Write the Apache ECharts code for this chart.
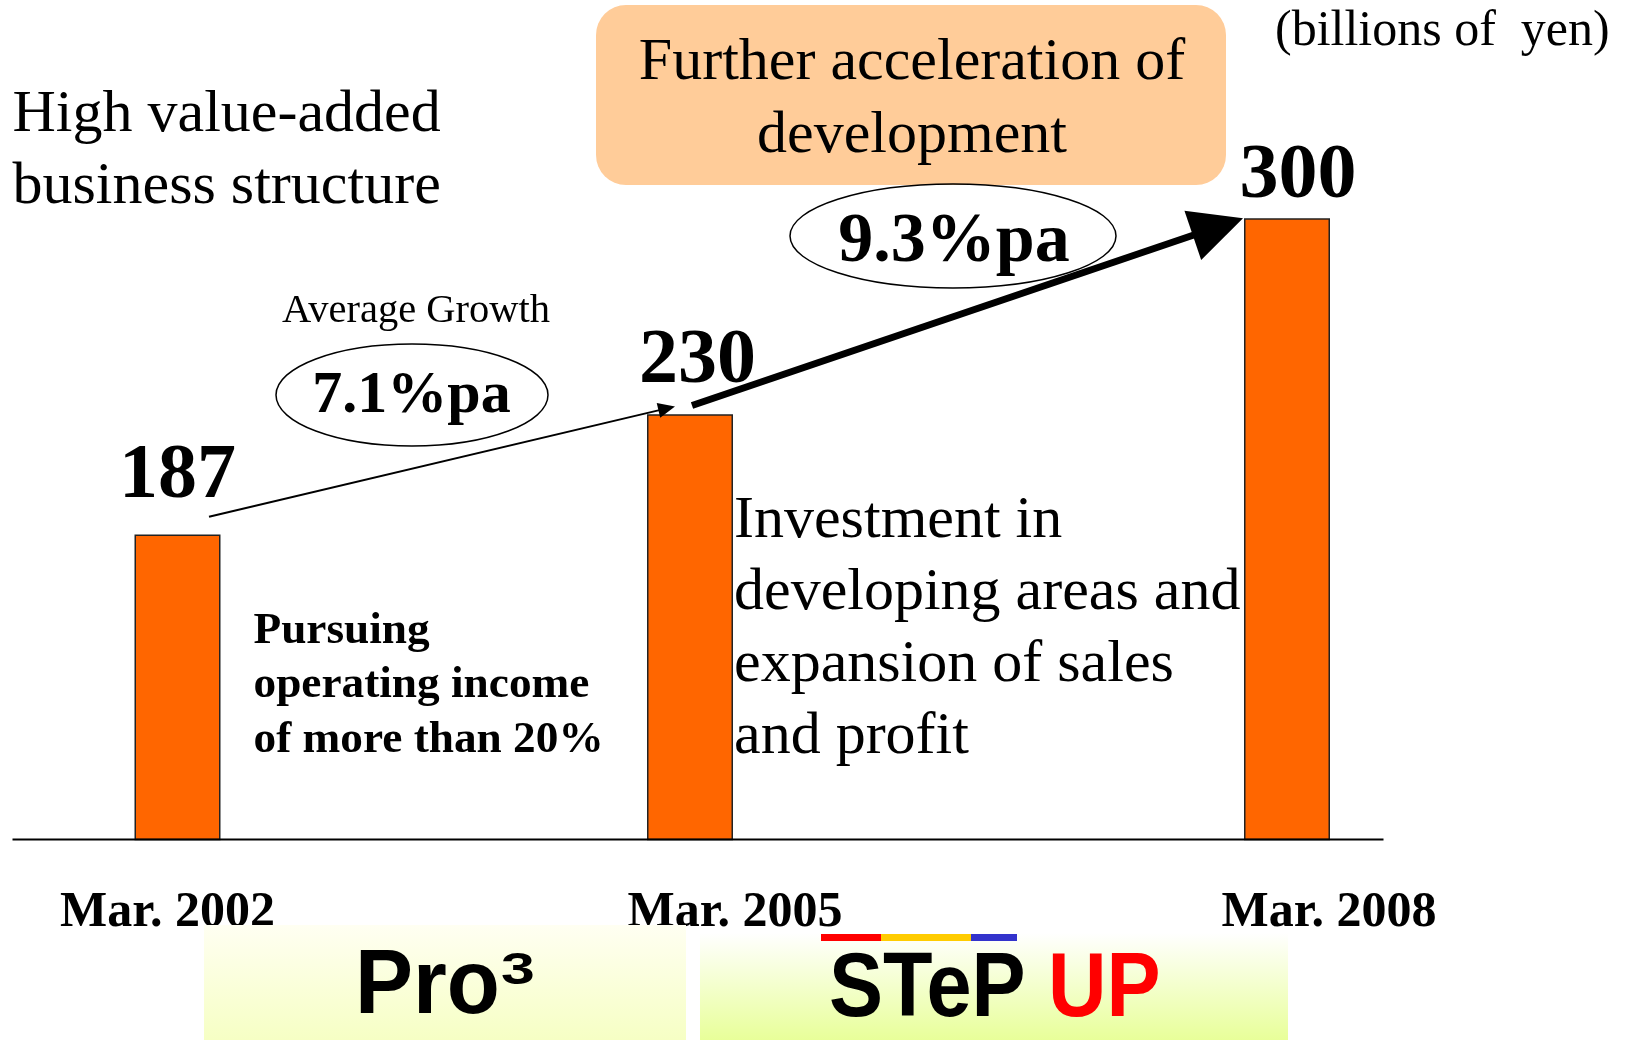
<!DOCTYPE html>
<html>
<head>
<meta charset="utf-8">
<script src="https://cdn.jsdelivr.net/npm/echarts@6/dist/echarts.min.js"></script>
<style>
html, body { margin: 0; padding: 0; background: #fff; }
#chart { width: 1625px; height: 1040px; }
</style>
</head>
<body>
<div id="chart"></div>
<script>
// data
var periods = ['Mar. 2002', 'Mar. 2005', 'Mar. 2008'];
var sales = [187, 230, 300];            // billions of yen
var growthRates = ['7.1%pa', '9.3%pa']; // average growth per period

var serif = '"Liberation Serif", "Times New Roman", serif';
var sans = '"Liberation Sans", Arial, sans-serif';

// layout of the slide (bars are not evenly spaced, so one small grid per bar)
var barCenters = [177.5, 690, 1287];
var labelShift = [-10, 45, 42];
var valueLabelOffset = [[0, -4], [7.5, 2], [11, 13]];
var baseY = 839.5;

var myChart = echarts.init(document.getElementById('chart'));

var grids = [], xAxes = [], yAxes = [], seriesList = [];
periods.forEach(function (p, i) {
    grids.push({ left: barCenters[i] - 60, width: 120, top: 0, height: baseY, outerBoundsMode: 'none' });
    var s = labelShift[i];
    xAxes.push({
        type: 'category', gridIndex: i, data: [p],
        axisLine: { show: false }, axisTick: { show: false },
        axisLabel: {
            color: '#000', fontFamily: serif, fontWeight: 'bold', fontSize: 50, lineHeight: 50,
            margin: 49,
            padding: s > 0 ? [0, 0, 0, 2 * s] : [0, -2 * s, 0, 0]
        }
    });
    yAxes.push({ type: 'value', gridIndex: i, min: 78, max: 378, show: false });
    seriesList.push({
        type: 'bar', xAxisIndex: i, yAxisIndex: i, data: [sales[i]], barWidth: 86,
        itemStyle: { color: '#FF6600', borderColor: '#222', borderWidth: 1.5 },
        label: {
            show: true, position: 'top', distance: 15, offset: valueLabelOffset[i], color: '#000',
            fontFamily: serif, fontWeight: 'bold', fontSize: 78, lineHeight: 78
        }
    });
});

function text(x, y, str, font, extra) {
    var el = {
        type: 'text', x: x, y: y, z: 10,
        style: { text: str, font: font, fill: '#000', align: 'left', verticalAlign: 'top' }
    };
    if (extra) {
        for (var k in extra) {
            if (k === 'style') { for (var j in extra.style) el.style[j] = extra.style[j]; }
            else el[k] = extra[k];
        }
    }
    return el;
}

function grad(top, bottom) {
    return new echarts.graphic.LinearGradient(0, 0, 0, 1, [
        { offset: 0, color: top }, { offset: 1, color: bottom }
    ]);
}

var staticGraphics = [
    { type: 'rect', shape: { x: 596, y: 5, width: 630, height: 180, r: 30 }, style: { fill: '#FFCC99' }, z: 1 },
    text(912, 26.6, 'Further acceleration of\ndevelopment', '60px ' + serif, { style: { align: 'center', lineHeight: 73 } }),
    text(12.5, 79.3, 'High value-added\nbusiness structure', '60px ' + serif, { style: { lineHeight: 72 } }),
    text(1275, 7, '(billions of  yen)', '50px ' + serif),
    text(416, 291, 'Average Growth', '40.5px ' + serif, { style: { align: 'center' } }),
    { type: 'ellipse', shape: { cx: 412, cy: 395, rx: 136, ry: 51 }, style: { fill: 'none', stroke: '#000', lineWidth: 1.5 }, z: 5 },
    text(411.5, 366.6, growthRates[0], 'bold 60px ' + serif, { style: { align: 'center' } }),
    { type: 'ellipse', shape: { cx: 953, cy: 236, rx: 163, ry: 52 }, style: { fill: 'none', stroke: '#000', lineWidth: 1.5 }, z: 5 },
    text(954, 207.7, growthRates[1], 'bold 70px ' + serif, { style: { align: 'center' } }),
    text(253.5, 604, 'Pursuing\noperating income\nof more than 20%', 'bold 45.3px ' + serif, { style: { lineHeight: 54.5 } }),
    text(734, 485, 'Investment in\ndeveloping areas and\nexpansion of sales\nand profit', '60px ' + serif, { style: { lineHeight: 72 } }),
    { type: 'line', shape: { x1: 12.5, y1: baseY, x2: 1383.5, y2: baseY }, style: { stroke: '#000', lineWidth: 2 }, z: 6 },
    // bottom period bands
    { type: 'rect', shape: { x: 204, y: 925, width: 482, height: 115 }, style: { fill: grad('#FFFFF2', '#F6FFC4') }, z: 1 },
    { type: 'rect', shape: { x: 700, y: 933, width: 588, height: 107 }, style: { fill: grad('#FFFFFF', '#E8FF99') }, z: 1 },
    { type: 'rect', shape: { x: 821, y: 934, width: 60, height: 7 }, style: { fill: '#FF0000' }, z: 3 },
    { type: 'rect', shape: { x: 881, y: 934, width: 90, height: 7 }, style: { fill: '#FFCC00' }, z: 3 },
    { type: 'rect', shape: { x: 971, y: 934, width: 46, height: 7 }, style: { fill: '#3333CC' }, z: 3 },
    text(355, 942, 'Pro', 'bold 91px ' + sans, { scaleX: 0.955 }),
    text(501, 949.5, '3', 'bold 45px ' + sans, { scaleX: 1.35 }),
    text(829, 946.4, '{k|STeP }{r|UP}', 'bold 90px ' + sans, {
        scaleX: 0.9,
        style: { rich: { k: { font: 'bold 90px ' + sans, fill: '#000' }, r: { font: 'bold 90px ' + sans, fill: '#FF0000' } } }
    })
];

var option = {
    animation: false,
    backgroundColor: '#fff',
    grid: grids,
    xAxis: xAxes,
    yAxis: yAxes,
    series: seriesList,
    graphic: staticGraphics
};
myChart.setOption(option);

// growth arrows, anchored to the tops of the bars
function barTop(i) {
    return myChart.convertToPixel({ seriesIndex: i }, [periods[i], sales[i]]);
}
function arrow(p0, p1, lineWidth, headLen, headHalf) {
    var dx = p1[0] - p0[0], dy = p1[1] - p0[1];
    var len = Math.sqrt(dx * dx + dy * dy);
    var ux = dx / len, uy = dy / len;
    var bx = p1[0] - ux * headLen, by = p1[1] - uy * headLen;
    var nx = -uy, ny = ux;
    return [
        { type: 'line', z: 8, shape: { x1: p0[0], y1: p0[1], x2: bx + ux, y2: by + uy }, style: { stroke: '#000', lineWidth: lineWidth } },
        { type: 'polygon', z: 8, shape: { points: [[p1[0], p1[1]], [bx + nx * headHalf, by + ny * headHalf], [bx - nx * headHalf, by - ny * headHalf]] }, style: { fill: '#000' } }
    ];
}
var t0 = barTop(0), t1 = barTop(1), t2 = barTop(2);
var arrows = []
    .concat(arrow([t0[0] + 31.5, t0[1] - 17.7], [t1[0] - 15, t1[1] - 7.7], 2, 17, 7.5))
    .concat(arrow([t1[0] + 2, t1[1] - 8.7], [t2[0] - 44, t2[1]], 7, 53, 26));

myChart.setOption({ graphic: staticGraphics.concat(arrows) });
</script>
</body>
</html>
